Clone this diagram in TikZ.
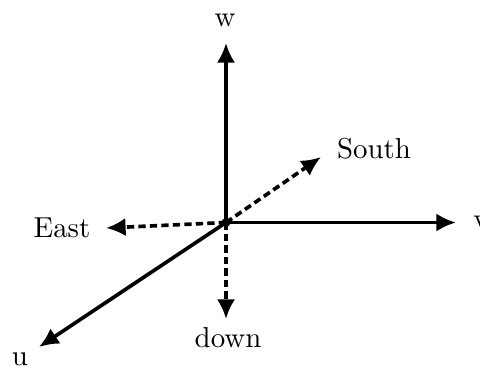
\documentclass[tikz,border=0pt]{standalone}
\usetikzlibrary{arrows.meta}
\begin{document}
\begin{tikzpicture}[x=0.357pt,y=-0.357pt,
  axis/.style={line width=1.3pt,-{Latex[length=7pt,width=6.5pt]}},
  dir/.style={line width=1.3pt,dash pattern=on 2.6pt off 1.5pt,-{Latex[length=7pt,width=6.5pt]}},
  lab/.style={inner sep=0pt,font=\fontsize{10.3}{12}\selectfont}]
\useasboundingbox (0,0) rectangle (480,367);
\clip (0,0) rectangle (480,367);
\coordinate (o) at (226,222.5);
\coordinate (wt) at (226,43);
\coordinate (vt) at (456,222.5);
\coordinate (ut) at (39,347);
\coordinate (et) at (106,228);
\coordinate (st) at (321,157);
\coordinate (dt) at (226,319);
\draw[axis] (o) -- (wt);
\draw[axis] (o) -- (vt);
\draw[axis] (o) -- (ut);
\draw[dir] (o) -- (et);
\draw[dir] (o) -- (st);
\draw[dir] (o) -- (dt);
\fill (o) circle (1.6pt);
\node[lab] (w) at (225,20) {w};
\node[lab] (v) at (481,222) {v};
\node[lab] (u) at (20,359) {u};
\node[lab] (east) at (62,228) {East};
\node[lab] (south) at (374,149) {South};
\node[lab] (down) at (228,338) {down};
\end{tikzpicture}
\end{document}
